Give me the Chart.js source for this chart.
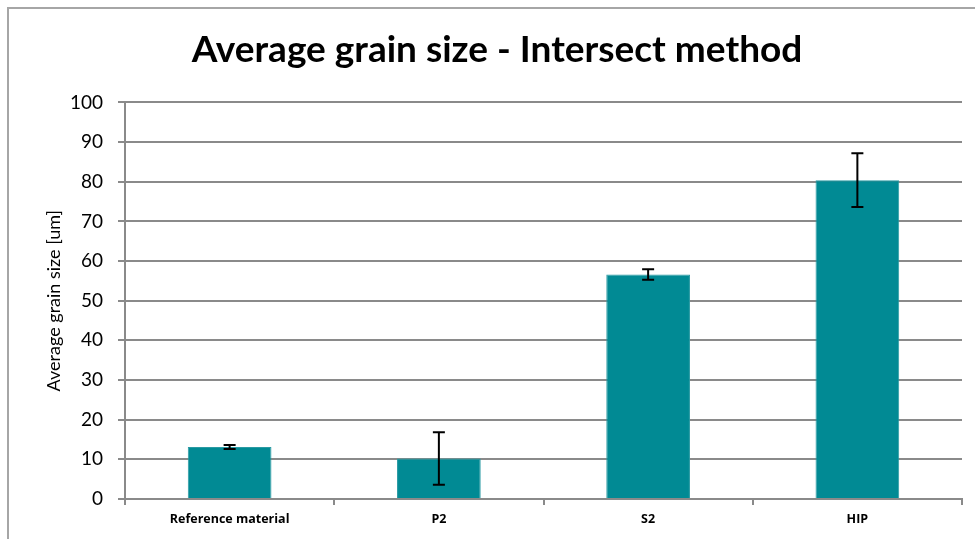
<!DOCTYPE html>
<html>
<head>
<meta charset="utf-8">
<script src="https://cdn.jsdelivr.net/npm/chart.js@4"></script>
<style>
	html, body { margin: 0; padding: 0; background: #fff; }
	#wrap { position: relative; width: 975px; height: 539px; }
	#frame { position: absolute; left: 7px; top: 7px; right: -5px; bottom: -5px; border-top: 2px solid #a6a6a6; border-left: 2px solid #a6a6a6; }
	canvas { position: absolute; left: 0; top: 0; }
</style>
</head>
<body>
<div id="wrap">
	<div id="frame"></div>
	<canvas id="grainChart" width="975" height="539"></canvas>
</div>
<script>
// values
var categories = ["Reference material", "P2", "S2", "HIP"];
var grainSize = [13.1, 10.2, 56.6, 80.4];
var grainError = [0.5, 6.6, 1.3, 6.8];
var yTicks = [0, 10, 20, 30, 40, 50, 60, 70, 80, 90, 100];

// draws the black error bars on top of each bar
var errorBars = {
	id : "errorBars",
	afterDatasetsDraw : function(chart){
		var ctx = chart.ctx;
		var yScale = chart.scales.y;
		var meta = chart.getDatasetMeta(0);
		ctx.save();
		ctx.strokeStyle = "#000";
		ctx.lineWidth = 2;
		meta.data.forEach(function(bar, i){
			var v = grainSize[i], e = grainError[i];
			var top = yScale.getPixelForValue(v + e);
			var bottom = yScale.getPixelForValue(v - e);
			var cap = 6;
			ctx.beginPath();
			ctx.moveTo(bar.x, top);
			ctx.lineTo(bar.x, bottom);
			ctx.moveTo(bar.x - cap, top);
			ctx.lineTo(bar.x + cap, top);
			ctx.moveTo(bar.x - cap, bottom);
			ctx.lineTo(bar.x + cap, bottom);
			ctx.stroke();
		});
		ctx.restore();
	}
};

var container = document.getElementById("grainChart");

var chart = new Chart(container, {
	type : 'bar',
	data : {
		labels : categories,
		datasets : [{
			data : grainSize,
			backgroundColor : "#018a94",
			borderColor : "#2a9aa3",
			borderWidth : 1,
			barPercentage : 0.4,
			categoryPercentage : 1.0
		}]
	},
	plugins : [errorBars],
	options : {
		responsive : false,
		animation : false,
		layout : {
			padding : { left : 32, right : 13, top : 0, bottom : 0 }
		},
		plugins : {
			legend : { display : false },
			tooltip : { enabled : false },
			title : {
				display : true,
				text : "Average grain size - Intersect method",
				color : "#000",
				font : { family : "Lato", size : 37, weight : "bold" },
				padding : { top : 28, bottom : 30 }
			}
		},
		scales : {
			x : {
				grid : {
					offset : true,
					drawOnChartArea : false,
					color : "#8a8a8a",
					lineWidth : 2,
					tickLength : 6
				},
				border : { color : "#8a8a8a", width : 2 },
				ticks : {
					color : "#000",
					padding : 7,
					font : { family : "Open Sans", size : 12.5, weight : "bold" }
				},
				afterFit : function(scale){ scale.height = 40; }
			},
			y : {
				min : 0,
				max : 100,
				afterBuildTicks : function(scale){
					scale.ticks = yTicks.map(function(v){ return { value : v }; });
				},
				grid : {
					color : "#8a8a8a",
					lineWidth : 2,
					tickLength : 7
				},
				border : { color : "#8a8a8a", width : 2 },
				ticks : {
					color : "#000",
					padding : 15,
					font : { family : "Lato", size : 19 }
				},
				title : {
					display : true,
					text : "Average grain size [um]",
					color : "#000",
					font : { family : "Lato", size : 18 },
					padding : { top : 11, bottom : 0 }
				},
				afterFit : function(scale){ scale.width = 93; }
			}
		}
	}
});
</script>
</body>
</html>
